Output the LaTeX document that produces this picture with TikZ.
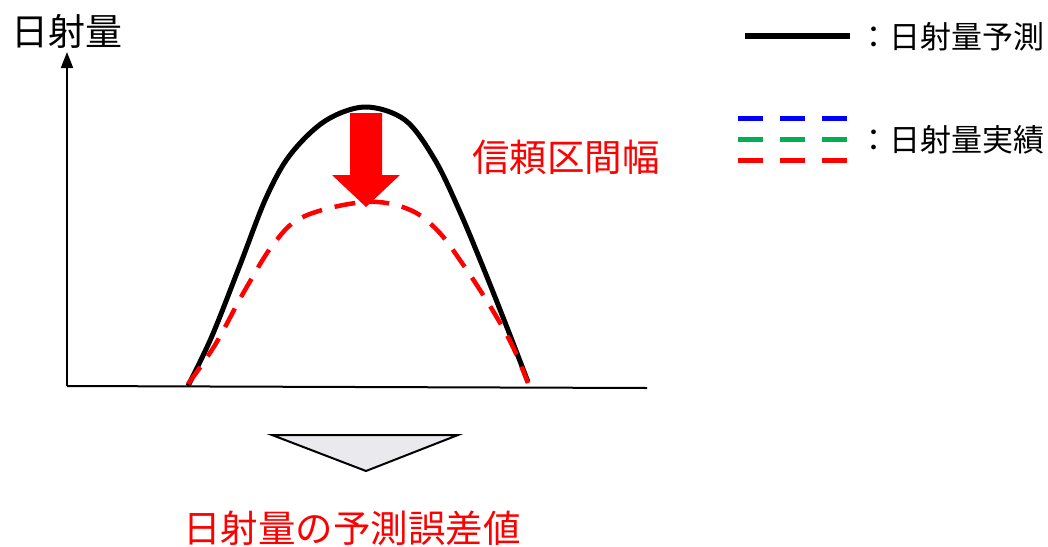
\documentclass[tikz,border=0pt]{standalone}
\usepackage{fontspec}
\setmainfont{Noto Sans CJK JP}
\usetikzlibrary{arrows.meta}
\definecolor{pred}{RGB}{255,0,0}
\definecolor{pblue}{RGB}{0,0,255}
\definecolor{pgreen}{RGB}{0,176,80}
\definecolor{tri}{RGB}{234,233,238}
\tikzset{
  lbl/.style={inner sep=0pt, font=\fontsize{31}{31}\selectfont},
  redlbl/.style={inner sep=0pt, text=pred, font=\fontsize{37.5}{37.5}\selectfont},
  axisline/.style={line width=2pt},
  forecast/.style={line width=5pt},
  actual/.style={line width=4.5pt, dash pattern=on 21pt off 13pt},
  legdash/.style={line width=5pt, dash pattern=on 25pt off 17pt},
}
\begin{document}
\begin{tikzpicture}[x={(1pt,0pt)}, y={(0pt,-1pt)}]
\useasboundingbox (0,0) rectangle (1048,546);
% axes
\coordinate (origin) at (67,386);
\coordinate (ytop) at (67,52);
\coordinate (xend) at (647,388);
\draw[axisline, -{Triangle[length=16pt,width=12pt]}] (origin) -- (ytop);
\draw[axisline] (origin) -- (xend);
\node[lbl, font=\fontsize{37}{37}\selectfont] (ylabel) at (67,31) {日射量};
% forecast curve
\draw[forecast, line join=round] plot[smooth, tension=0.55] coordinates {
 (188,386) (212,336) (240,265) (266,198) (290,155) (325,121) (365,107)
 (405,120) (435,160) (460,212) (485,272) (508,330) (528,382)};
% actual curve
\draw[actual, pred] plot[smooth, tension=0.6] coordinates {
 (188,384) (215,345) (245,290) (275,242) (305,216) (365,202)
 (408,209) (437,230) (462,263) (490,306) (512,345) (528,383)};
% big red arrow
\fill[pred] (350,113) -- (382,113) -- (382,175) -- (400,175) -- (366,207)
  -- (332,175) -- (350,175) -- cycle;
\node[redlbl, anchor=west] (ci) at (472,157) {信頼区間幅};
% triangle
\draw[line width=2pt, fill=tri, line join=miter] (272,435) -- (458,435) -- (366,471) -- cycle;
\node[redlbl] (err) at (352,528) {日射量の予測誤差値};
% legend
\coordinate (l1a) at (745,36);
\coordinate (l1b) at (850,36);
\draw[line width=6pt] (l1a) -- (l1b);
\node[lbl, anchor=west] (leg1) at (858,37) {：日射量予測};
\coordinate (b1) at (738,118); \coordinate (b2) at (849,118);
\coordinate (g1) at (738,139); \coordinate (g2) at (849,139);
\coordinate (r1) at (738,160); \coordinate (r2) at (849,160);
\draw[legdash, pblue] (b1) -- (b2);
\draw[legdash, pgreen] (g1) -- (g2);
\draw[legdash, pred] (r1) -- (r2);
\node[lbl, anchor=west] (leg2) at (858,140) {：日射量実績};
\end{tikzpicture}
\end{document}
